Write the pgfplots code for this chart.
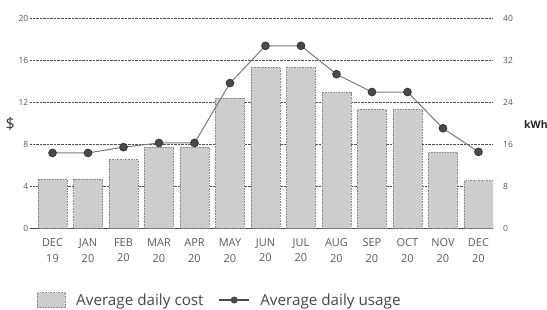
\documentclass[border=0pt]{standalone}
\usepackage{pgfplots}
\pgfplotsset{compat=1.18}
\usepackage{fontspec}
\setmainfont{Open Sans}
\definecolor{barfill}{HTML}{CDCDCD}
\definecolor{barline}{HTML}{8A8A8A}
\definecolor{gridc}{HTML}{505050}
\definecolor{txt}{HTML}{5A5A5A}
\definecolor{linec}{HTML}{7A7A7A}
\definecolor{markc}{HTML}{4A4A4A}

\pgfplotstableread{
x cost
0 4.67
1 4.67
2 6.5
3 7.7
4 7.7
5 12.4
6 15.3
7 15.3
8 12.9
9 11.3
10 11.3
11 7.2
12 4.5
}\costdata

\pgfplotstableread{
x usage
0 14.3
1 14.3
2 15.4
3 16.2
4 16.2
5 27.6
6 34.7
7 34.7
8 29.3
9 25.9
10 25.9
11 19.0
12 14.5
}\usagedata

\begin{document}
\begin{tikzpicture}[x=1bp,y=1bp]
\useasboundingbox (0,0) rectangle (547,309);
\pgfplotsset{
  common/.style={
    at={(30bp,81bp)}, anchor=south west,
    scale only axis, width=463bp, height=210bp,
    xmin=-0.634, xmax=12.41,
    /pgf/number format/assume math mode=true,
    major tick length=0pt,
  }
}
\begin{axis}[
  common,
  ymin=0, ymax=20,
  axis x line*=bottom,
  axis y line*=left,
  x axis line style={draw=gridc, line width=1bp, -},
  y axis line style={draw=none},
  ytick={0,4,...,20},
  ymajorgrids,
  grid style={draw=gridc, densely dotted, line width=0.7bp},
  yticklabel style={font=\fontsize{8.5}{9}\selectfont, text=txt, inner sep=1.5bp},
  xtick={0,...,12},
  xticklabels={DEC\\19,JAN\\20,FEB\\20,MAR\\20,APR\\20,MAY\\20,JUN\\20,JUL\\20,AUG\\20,SEP\\20,OCT\\20,NOV\\20,DEC\\20},
  xticklabel style={font=\fontsize{11}{15.5}\selectfont, text=txt, align=center, inner sep=0pt, yshift=-10.5bp},
  ylabel={\$},
  every axis y label/.style={at={(axis description cs:-0.043,0.495)}, anchor=center, font=\fontsize{16}{17}\selectfont, text=txt!60!black},
]
\addplot[ybar, bar width=29bp, fill=barfill, draw=barline, densely dotted, line width=0.6bp] table[x=x, y=cost] {\costdata};
\end{axis}
\begin{axis}[
  common,
  ymin=0, ymax=40,
  axis x line=none,
  axis y line*=right,
  y axis line style={draw=none},
  ytick={0,8,...,40},
  yticklabel style={font=\fontsize{8.5}{9}\selectfont, text=txt, anchor=west, inner sep=0pt, xshift=10bp},
  ylabel={kWh},
  every axis y label/.style={at={(axis description cs:1.067,0.495)}, anchor=west, inner sep=0pt, font=\bfseries\fontsize{10.5}{12}\selectfont, text=black!85},
  legend columns=2,
  legend style={at={(axis description cs:0.015,-0.343)}, anchor=west, draw=none, fill=none,
    inner xsep=0pt, inner ysep=0pt,
    nodes={inner sep=0pt},
    font=\fontsize{15.3}{17}\selectfont, text=txt!80!black,
    /tikz/every odd column/.append style={column sep=10.5bp},
    /tikz/every even column/.append style={column sep=15bp}},
]
\addlegendimage{legend image code/.code={\draw[fill=barfill, draw=barline, densely dotted, line width=0.6bp] (0bp,-7.5bp) rectangle (28bp,7.5bp);}}
\addlegendentry{Average daily cost}
\addplot[color=linec, line width=1bp, mark=*, mark size=3.8bp, mark options={fill=markc, draw=markc!80!black, solid},
  legend image code/.code={\draw[markc, line width=1.2bp] (0bp,0bp) -- (30bp,0bp); \fill[markc] (15bp,0bp) circle (3bp);}]
  table[x=x, y=usage] {\usagedata};
\addlegendentry{Average daily usage}
\end{axis}
\end{tikzpicture}
\end{document}
